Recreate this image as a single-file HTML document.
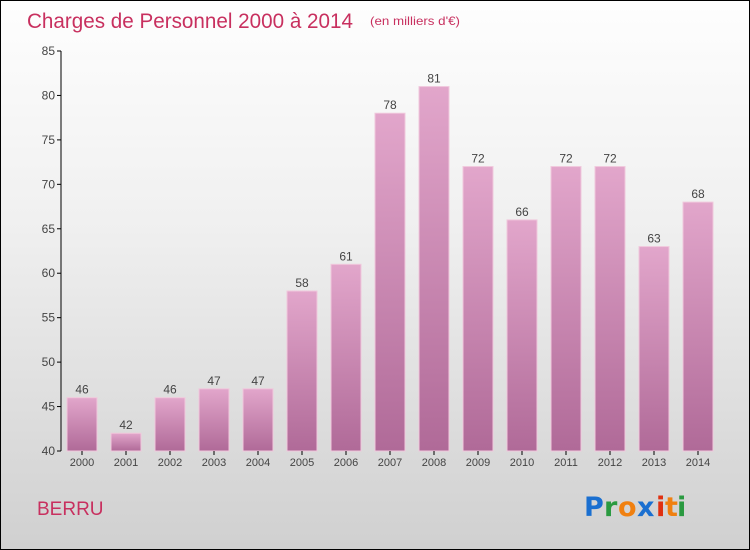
<!DOCTYPE html>
<html><head><meta charset="utf-8"><style>
body{margin:0}
#c{position:relative;width:748px;height:548px;border:1px solid #000;background:linear-gradient(#fefefe,#f0f0f0 40%,#d0d0d0);font-family:"Liberation Sans",sans-serif;overflow:hidden}
</style></head><body>
<div id="c">
<svg width="748" height="548" id="s">
<defs><linearGradient id="g" x1="0" y1="0" x2="0" y2="1"><stop offset="0" stop-color="#e2a6cb"/><stop offset="1" stop-color="#b06a98"/></linearGradient></defs>
<text x="26" y="27" font-size="21" fill="#c8305f" textLength="326" lengthAdjust="spacingAndGlyphs">Charges de Personnel 2000 à 2014</text>
<text x="369" y="24" font-size="12" fill="#c8305f" textLength="90" lengthAdjust="spacingAndGlyphs">(en milliers d'€)</text>
<text x="36" y="514" font-size="19" fill="#c8305f">BERRU</text>
<g font-size="27" font-family="'DejaVu Sans',sans-serif" font-weight="bold">
<text x="583" y="515" fill="#1a6fd0">P</text><text x="603" y="515" fill="#2a9a40">r</text><text x="617" y="515" fill="#f08010">o</text><text x="636" y="515" fill="#1a6fd0">x</text><text x="655" y="515" fill="#e03010">i</text><text x="664" y="515" fill="#f08010">t</text><text x="676" y="515" fill="#2a9a40">i</text>
</g>
<g id="plot"></g>
</svg></div>
<script>
const years=["2000","2001","2002","2003","2004","2005","2006","2007","2008","2009","2010","2011","2012","2013","2014"];
const values=[46,42,46,47,47,58,61,78,81,72,66,72,72,63,68];
const yTicks=[40,45,50,55,60,65,70,75,80,85];
const NS="http://www.w3.org/2000/svg";
const p=document.getElementById('plot');
const y=v=>450-(v-40)*400/45;
const x=i=>81+i*44;
function mk(t,a){const e=document.createElementNS(NS,t);for(const k in a)e.setAttribute(k,a[k]);p.appendChild(e);return e;}
let ax=mk('line',{x1:60,y1:50,x2:60,y2:450,stroke:'#000'});


yTicks.forEach(v=>{
 let l=mk('line',{x1:56,y1:y(v),x2:60,y2:y(v),stroke:'#000'});
 
 
 let t=mk('text',{x:54,y:y(v)+4,'font-size':12,'text-anchor':'end',fill:'#444'});
 t.textContent=v;
 
 
});
years.forEach((yr,i)=>{
 const v=values[i];
 let r=mk('rect',{x:x(i)-15,y:y(v),width:30,height:450-y(v),fill:'url(#g)',stroke:'#f0c8dc','stroke-width':1});
 
 
 let l=mk('text',{x:x(i),y:y(v)-4,'font-size':12,'text-anchor':'middle',fill:'#444'});
 l.textContent=v;
 
 
 let tk=mk('line',{x1:x(i),y1:450,x2:x(i),y2:454,stroke:'#000'});
 
 
 let t=mk('text',{x:x(i),y:465,'font-size':11,'text-anchor':'middle',fill:'#444'});
 t.textContent=yr;
 
 
});
</script>
</body></html>
